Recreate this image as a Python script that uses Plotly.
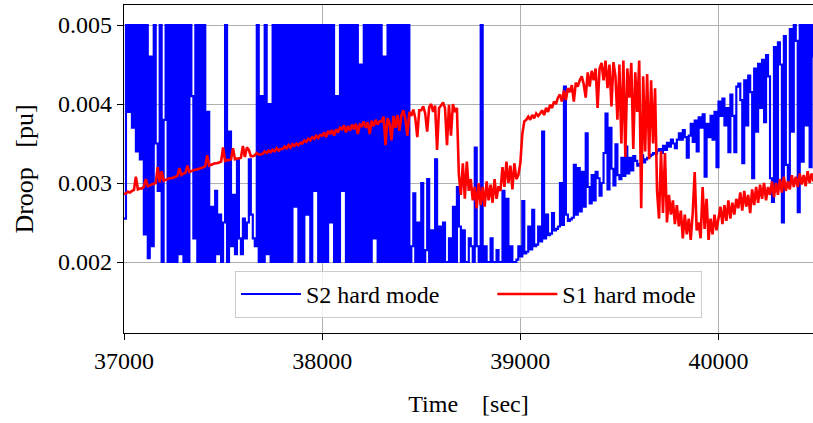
import numpy as np
import plotly.graph_objects as go

# Sampling grid of the logged droop signals
t_start = 37000   # [sec]
t_step = 10       # [sec]

# Droop of S2 in hard mode, in units of 1e-3 pu (one row = 100 s)
s2_droop_mpu = [
    2.55, 5.0, 3.9, 5.0, 3.7, 5.0, 3.4, 5.0, 3.3, 5.0,
    2.35, 5.0, 2.05, 4.6, 2.2, 5.0, 3.5, 2.9, 5.0, 2.0,
    3.8, 5.0, 2.0, 5.0, 2.0, 5.0, 2.0, 5.0, 2.1, 5.0,
    2.0, 5.0, 2.0, 5.0, 4.1, 2.3, 5.0, 2.0, 5.0, 2.0,
    5.0, 2.0, 3.9, 2.0, 2.7, 2.0, 2.9, 2.1, 2.6, 2.0,
    2.5, 5.0, 2.0, 3.65, 2.2, 2.85, 2.1, 3.3, 2.3, 2.1,
    2.55, 2.3, 2.5, 3.3, 2.6, 2.3, 2.2, 5.0, 2.0, 4.1,
    2.0, 5.0, 2.1, 4.0, 2.0, 5.0, 2.0, 5.0, 2.0, 5.0,
    2.0, 5.0, 2.0, 5.0, 2.0, 5.0, 2.7, 5.0, 2.0, 5.0,
    2.0, 5.0, 2.6, 5.0, 2.0, 5.0, 2.9, 5.0, 2.0, 5.0,
    2.0, 5.0, 2.0, 5.0, 2.5, 5.0, 2.0, 4.1, 2.0, 5.0,
    2.9, 5.0, 2.0, 5.0, 2.0, 5.0, 2.0, 5.0, 2.0, 4.5,
    2.0, 5.0, 2.0, 5.0, 2.0, 5.0, 2.3, 5.0, 2.0, 5.0,
    2.0, 4.6, 2.0, 5.0, 2.0, 5.0, 2.0, 5.0, 2.0, 5.0,
    2.0, 5.0, 2.0, 5.0, 2.0, 2.2, 2.87, 2.0, 2.5, 2.0,
    3.0, 2.0, 2.15, 3.05, 2.0, 2.4, 2.0, 3.3, 2.0, 2.45,
    2.0, 2.5, 2.0, 2.0, 2.3, 2.0, 2.7, 2.0, 2.95, 2.45,
    2.0, 2.4, 2.0, 2.0, 2.3, 2.2, 2.0, 3.45, 2.2, 2.0,
    5.0, 2.0, 2.2, 2.0, 2.0, 2.3, 2.0, 2.0, 2.15, 2.0,
    2.0, 2.9, 2.0, 2.8, 2.0, 2.2, 2.0, 2.0, 2.03, 2.2,
    2.07, 2.77, 2.11, 2.13, 2.45, 2.16, 2.66, 2.2, 2.22, 2.45,
    2.26, 3.65, 2.3, 2.6, 2.34, 2.36, 2.62, 2.4, 2.42, 2.45,
    3.0, 2.47, 4.22, 2.6, 2.52, 2.54, 2.56, 3.23, 2.6, 3.19,
    2.64, 3.14, 2.7, 3.63, 2.95, 2.74, 3.1, 2.78, 3.14, 3.06,
    2.84, 3.0, 3.38, 3.88, 2.92, 3.7, 3.18, 2.97, 3.49, 3.1,
    3.05, 3.32, 3.09, 3.46, 3.12, 3.32, 3.16, 3.34, 3.28, 3.22,
    3.24, 3.35, 3.26, 3.3, 3.32, 3.34, 3.36, 3.38, 3.37, 3.41,
    3.43, 3.38, 3.47, 3.42, 3.51, 3.46, 3.55, 3.5, 3.44, 3.55,
    3.63, 3.55, 3.67, 3.58, 3.32, 3.6, 3.75, 3.52, 3.79, 3.4,
    3.83, 3.7, 3.87, 3.08, 3.75, 3.58, 3.85, 3.55, 3.9, 3.2,
    4.03, 3.85, 4.07, 3.73, 3.95, 3.39, 4.12, 3.85, 3.39, 4.22,
    4.26, 4.05, 3.25, 4.3, 3.73, 4.36, 4.15, 3.06, 4.45, 3.65,
    4.51, 3.95, 4.56, 3.77, 4.62, 4.35, 3.06, 2.76, 4.72, 2.93,
    4.78, 4.5, 2.5, 4.86, 3.23, 3.0, 4.95, 3.65, 5.0, 4.8,
    2.63, 5.0, 3.27, 5.0, 3.73, 5.0, 3.2, 5.0, 4.6, 5.0,
]

# Droop of S1 in hard mode, in units of 1e-3 pu (one row = 100 s)
s1_droop_mpu = [
    2.86, 2.87, 2.89, 2.88, 2.9, 2.91, 3.08, 2.92, 2.93, 2.93,
    2.95, 3.05, 2.96, 2.97, 2.98, 2.99, 3.0, 3.2, 3.01, 3.15,
    3.03, 3.04, 3.05, 3.06, 3.06, 3.07, 3.08, 3.09, 3.19, 3.1,
    3.12, 3.13, 3.22, 3.14, 3.15, 3.16, 3.17, 3.17, 3.18, 3.19,
    3.2, 3.21, 3.35, 3.22, 3.23, 3.24, 3.25, 3.25, 3.26, 3.27,
    3.45, 3.28, 3.29, 3.29, 3.3, 3.44, 3.3, 3.31, 3.31, 3.32,
    3.47, 3.33, 3.45, 3.42, 3.34, 3.34, 3.35, 3.38, 3.36, 3.36,
    3.37, 3.4, 3.38, 3.41, 3.39, 3.42, 3.4, 3.44, 3.41, 3.43,
    3.43, 3.46, 3.44, 3.48, 3.45, 3.49, 3.47, 3.5, 3.48, 3.51,
    3.5, 3.54, 3.52, 3.56, 3.54, 3.58, 3.56, 3.6, 3.57, 3.61,
    3.6, 3.64, 3.58, 3.66, 3.62, 3.67, 3.6, 3.68, 3.64, 3.7,
    3.68, 3.73, 3.64, 3.72, 3.66, 3.74, 3.68, 3.75, 3.62, 3.74,
    3.72, 3.78, 3.7, 3.77, 3.62, 3.79, 3.72, 3.8, 3.74, 3.78,
    3.78, 3.84, 3.48, 3.82, 3.76, 3.54, 3.85, 3.7, 3.86, 3.66,
    3.86, 3.92, 3.8, 3.6, 3.9, 3.85, 3.93, 3.82, 3.58, 3.92,
    3.92, 3.97, 3.88, 3.65, 3.96, 4.0, 3.9, 3.98, 3.42, 3.95,
    3.98, 4.02, 3.95, 3.48, 3.99, 3.6, 4.0, 3.9, 3.95, 3.1,
    2.85, 3.25, 2.8, 3.27, 2.9, 3.05, 2.78, 2.95, 2.68, 3.0,
    2.72, 2.95, 2.7, 3.02, 2.78, 2.98, 2.75, 3.05, 2.8, 2.96,
    2.9, 3.2, 2.95, 3.27, 3.0, 3.22, 2.92, 3.25, 3.05, 3.1,
    3.25, 3.62, 3.78, 3.8, 3.84, 3.8, 3.86, 3.82, 3.88, 3.85,
    3.88, 3.92, 3.86, 3.95, 3.9, 3.99, 3.95, 4.03, 4.0, 4.08,
    4.12, 4.03, 4.17, 4.05, 4.2, 4.15, 4.24, 4.03, 4.27, 4.22,
    4.3, 4.35, 4.25, 4.08, 4.4, 4.22, 4.42, 4.3, 4.45, 3.95,
    4.45, 4.52, 4.3, 4.55, 4.2, 4.5, 3.97, 4.53, 4.35, 3.8,
    4.5, 3.5, 4.55, 3.33, 4.45, 4.08, 4.52, 3.43, 4.4, 3.9,
    4.55, 2.68, 4.35, 3.4, 4.38, 3.3, 4.3, 3.5, 4.2, 2.9,
    2.55, 3.4, 2.62, 3.38, 2.5, 2.85, 2.6, 2.78, 2.48, 2.72,
    2.45, 2.65, 2.3, 2.6, 2.35, 2.55, 2.28, 2.62, 3.14, 2.4,
    2.5, 2.3, 2.95, 2.42, 2.8, 2.28, 2.55, 2.35, 2.6, 2.4,
    2.55, 2.7, 2.48, 2.72, 2.52, 2.78, 2.55, 2.75, 2.6, 2.8,
    2.68, 2.88, 2.65, 2.9, 2.7, 2.85, 2.62, 2.92, 2.72, 2.95,
    2.75, 2.98, 2.8, 3.0, 2.78, 2.95, 2.85, 3.02, 2.82, 3.0,
    2.85, 3.05, 2.88, 3.08, 2.9, 3.02, 2.92, 3.1, 2.95, 3.08,
    2.95, 3.12, 2.98, 3.1, 2.96, 3.15, 3.0, 3.12, 3.02, 3.14,
]

time_ticks = [37000, 38000, 39000, 40000]
time_tick_text = ["37000", "38000", "39000", "40000"]
droop_ticks = [0.002, 0.003, 0.004, 0.005]
droop_tick_text = ["0.002", "0.003", "0.004", "0.005"]

time_s2 = t_start + t_step * np.arange(len(s2_droop_mpu))
time_s1 = t_start + t_step * np.arange(len(s1_droop_mpu))
droop_s2 = np.array(s2_droop_mpu) * 1e-3
droop_s1 = np.array(s1_droop_mpu) * 1e-3

nb = "\u00a0"
fig = go.Figure()
# S2 is a sampled (held) controller output, drawn as a step line
fig.add_trace(go.Scatter(
    x=time_s2, y=droop_s2, mode="lines", name="S2 hard mode" + nb * 8,
    line=dict(color="#0000ff", width=2.15, shape="hv", simplify=False),
))
fig.add_trace(go.Scatter(
    x=time_s1, y=droop_s1, mode="lines", name="S1 hard mode",
    line=dict(color="#ff0000", width=2.6, simplify=False),
))

serif = "Liberation Serif, Times New Roman, serif"
fig.update_layout(
    width=813, height=423,
    margin=dict(l=124, r=0, t=5, b=90),
    plot_bgcolor="white", paper_bgcolor="white",
    font=dict(family=serif, size=24, color="black"),
    showlegend=True,
    legend=dict(
        orientation="h", x=0.5, xanchor="center", y=0.046, yanchor="bottom",
        bgcolor="rgba(255,255,255,0.8)", bordercolor="#cccccc", borderwidth=1,
        font=dict(family=serif, size=24, color="black"),
        itemwidth=60,
    ),
)
fig.update_xaxes(
    range=[37000, 40477], tickvals=time_ticks, ticktext=time_tick_text,
    showgrid=True, gridcolor="#b0b0b0", gridwidth=1, zeroline=False,
    showline=True, linecolor="black", linewidth=1.2, mirror=True,
    ticks="outside", ticklen=6, tickcolor="black",
    title=dict(text="Time" + nb * 4 + "[sec]", standoff=22,
               font=dict(family=serif, size=24)),
)
fig.update_yaxes(
    range=[0.0011013, 0.0052532], tickvals=droop_ticks, ticktext=droop_tick_text,
    showgrid=True, gridcolor="#b0b0b0", gridwidth=1, zeroline=False,
    showline=True, linecolor="black", linewidth=1.2, mirror=False,
    ticks="outside", ticklen=6, tickcolor="black",
    title=dict(text="Droop" + nb * 3 + "[pu]", standoff=16,
               font=dict(family=serif, size=26)),
)

fig.write_html("out.html", config={"displayModeBar": False})
